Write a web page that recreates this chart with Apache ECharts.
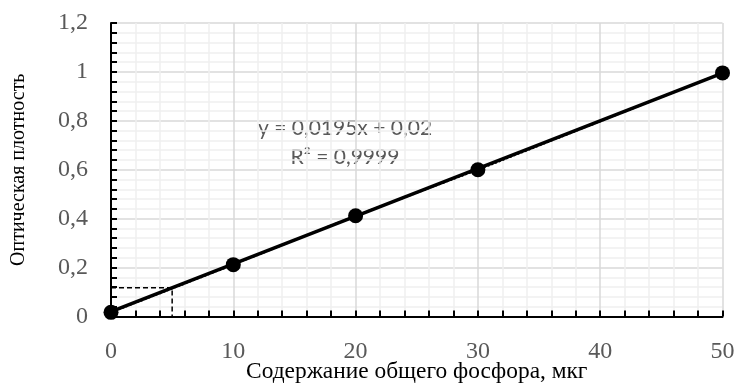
<!DOCTYPE html>
<html>
<head>
<meta charset="utf-8">
<script src="https://cdn.jsdelivr.net/npm/echarts@6/dist/echarts.min.js"></script>
<style>
html,body{margin:0;padding:0;background:#fff;}
#chart{width:737px;height:383px;}
</style>
</head>
<body>
<div id="chart"></div>
<script>
const xValues = [0, 10, 20, 30, 50];
const yValues = [0.017, 0.212, 0.412, 0.600, 0.996];
const trendX = [0, 50];
const trendY = [0.02, 0.995];
const guideX = [0, 5, 5];
const guideY = [0.118, 0.118, 0];
const xTitle = 'Содержание общего фосфора, мкг';
const yTitle = 'Оптическая плотность';
const eqLine1 = 'y = 0,0195x + 0,02';
const eqLine2 = 'R² = 0,9999';

const pts = (xs, ys) => xs.map((x, i) => [x, ys[i]]);
const fmt = v => String(parseFloat(Number(v).toFixed(2))).replace('.', ',');

const chart = echarts.init(document.getElementById('chart'));
chart.setOption({
  animation: false,
  backgroundColor: '#fff',
  grid: {left: 111, right: 14.5, top: 23, bottom: 66.5, containLabel: false, outerBoundsMode: 'none'},
  xAxis: {
    type: 'value', min: 0, max: 50, interval: 10,
    name: xTitle, nameLocation: 'middle', nameGap: 44, nameMoveOverlap: false,
    nameTextStyle: {fontFamily: 'Liberation Serif', fontSize: 23.4, color: '#000'},
    axisLine: {show: true, onZero: false, lineStyle: {color: '#000', width: 2}},
    axisTick: {show: true, inside: true, length: 6, lineStyle: {color: '#000', width: 2}},
    minorTick: {show: true, splitNumber: 5, length: 6, lineStyle: {color: '#000', width: 2}},
    axisLabel: {fontFamily: 'Liberation Serif', fontSize: 24, color: '#595959', margin: 23, formatter: fmt},
    splitLine: {show: true, lineStyle: {color: '#d9d9d9', width: 1.5}},
    minorSplitLine: {show: true, lineStyle: {color: '#f0f0f0', width: 1.5}}
  },
  yAxis: {
    type: 'value', min: 0, max: 1.2, interval: 0.2,
    name: yTitle, nameLocation: 'middle', nameGap: 82, nameRotate: 90, nameMoveOverlap: false,
    nameTextStyle: {fontFamily: 'Liberation Serif', fontSize: 20, color: '#000'},
    axisLine: {show: true, onZero: false, lineStyle: {color: '#000', width: 2}},
    axisTick: {show: true, inside: true, length: 6, lineStyle: {color: '#000', width: 2}},
    minorTick: {show: true, splitNumber: 5, length: 6, lineStyle: {color: '#000', width: 2}},
    axisLabel: {fontFamily: 'Liberation Serif', fontSize: 24, color: '#595959', margin: 23, formatter: fmt},
    splitLine: {show: true, lineStyle: {color: '#d9d9d9', width: 1.5}},
    minorSplitLine: {show: true, lineStyle: {color: '#f0f0f0', width: 1.5}}
  },
  graphic: [
    {type: 'text', x: 345, y: 128, style: {text: eqLine1, font: '21px Lato', fill: '#595959', align: 'center', verticalAlign: 'middle'}},
    {type: 'text', x: 345, y: 157, style: {text: eqLine2, font: '21px Lato', fill: '#595959', align: 'center', verticalAlign: 'middle'}}
  ],
  series: [
    {
      type: 'line', data: pts(guideX, guideY), symbol: 'none', silent: true,
      lineStyle: {color: '#000', width: 1.5, type: [5, 3]}, z: 2
    },
    {
      type: 'line', data: pts(trendX, trendY), symbol: 'none', silent: true,
      lineStyle: {color: '#000', width: 3.5}, z: 3
    },
    {
      type: 'line', data: pts(xValues, yValues), symbol: 'circle', symbolSize: 15,
      itemStyle: {color: '#000'},
      lineStyle: {color: '#000', width: 2, type: 'dotted'}, z: 4
    }
  ]
});
</script>
</body>
</html>
